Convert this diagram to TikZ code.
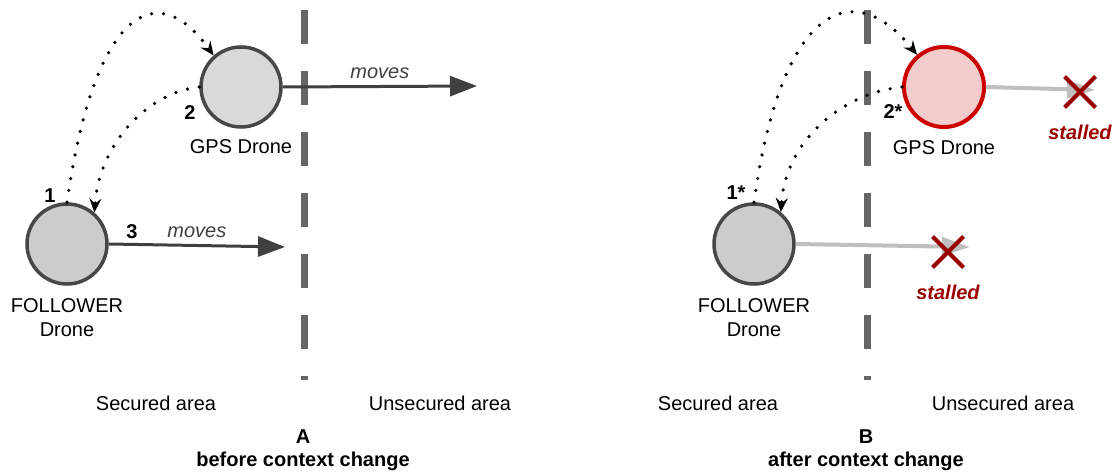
\documentclass[tikz,border=0pt]{standalone}
\usepackage{fontspec}
\setmainfont{Liberation Sans}
\usetikzlibrary{arrows.meta,calc}
\usetikzlibrary{positioning,shapes.misc}

\definecolor{dronegray}{HTML}{474747}
\definecolor{movegray}{HTML}{404040}
\definecolor{bordergray}{HTML}{666666}
\definecolor{stallgray}{HTML}{BFBFBF}
\definecolor{stallred}{HTML}{990000}
\definecolor{alertred}{HTML}{CC0000}
\definecolor{alertfill}{HTML}{F4CCCC}

\begin{document}
\begin{tikzpicture}[x=0.5pt,y=0.5pt]
		\tikzstyle{drone}=[circle,draw=dronegray,line width=1.75pt,minimum size=40pt,inner sep=0pt]
		\tikzstyle{border line}=[draw=bordergray,line width=3.5pt,dash pattern=on 17pt off 13.5pt]
		\tikzstyle{move line}=[draw=movegray,line width=1.5pt,-{Triangle[length=13.5pt,width=10pt]}]
		\tikzstyle{stall line}=[draw=stallgray,line width=2pt,-{Triangle[length=14pt,width=9pt]}]
		\tikzstyle{request}=[line width=1.8pt,dash pattern=on 0pt off 6pt,line cap=round,-{Stealth[length=7pt,width=6pt,inset=2.5pt]}]
		\tikzstyle{stop mark}=[cross out,draw=stallred,line width=2pt,minimum size=13.5pt,inner sep=0pt]
		\tikzstyle{stall text}=[text=stallred,font=\bfseries\itshape]
		\useasboundingbox (0,0) rectangle (1113,472);

		%%% A: before context change
		%border
		\draw [border line] (304,462) -- (304,92);
		%drones
		\node [drone,fill=black!15] (gpsA) at (241,385) {};
		\node [drone,fill=black!20] (folA) at (67,228) {};
		\node [below=2pt of gpsA] (gpsAtext) {GPS Drone};
		\node [below=3pt of folA,align=center] (folAtext) {FOLLOWER\\Drone};
		%requests
		\draw [request] (folA.north) .. controls +(27,190) and +(-58,81) .. (gpsA.131);
		\draw [request] (gpsA.west) .. controls +(-50,-5) and +(5,70) .. (folA.49);
		\node (numA1) at (50,276) {\textbf{1}};
		\node (numA2) at (190,359) {\textbf{2}};
		\node (numA3) at (132,240) {\textbf{3}};
		%moves
		\coordinate (gpsAend) at (477,386);
		\coordinate (folAend) at (285,225);
		\draw [move line] (gpsA.east) -- (gpsAend) node [midway,above=0pt,text=movegray] (movesA1) {\itshape moves};
		\draw [move line] (folA.east) -- (folAend) node [midway,above=0pt,text=movegray] (movesA2) {\itshape moves};
		%areas
		\node (secA) at (156,69) {Secured area};
		\node (unsecA) at (440,69) {Unsecured area};
		\node (titleA) at (303,35) {\textbf{A}};
		\node (captionA) at (303,11) {\textbf{before context change}};

		%%% B: after context change
		%border
		\draw [border line] (867,462) -- (867,92);
		%drones
		\node [drone,draw=alertred,line width=2pt,fill=alertfill] (gpsB) at (944,385) {};
		\node [drone,fill=black!20] (folB) at (754,228) {};
		\node [below=2pt of gpsB] (gpsBtext) {GPS Drone};
		\node [below=3pt of folB,align=center] (folBtext) {FOLLOWER\\Drone};
		%requests
		\draw [request] (folB.north) .. controls +(27,195) and +(-65,81) .. (gpsB.130);
		\draw [request] (gpsB.west) .. controls +(-55,-5) and +(5,75) .. (folB.50);
		\node (numB1) at (736,279) {\textbf{1*}};
		\node (numB2) at (893,360) {\textbf{2*}};
		%stalled moves
		\coordinate (gpsBend) at (1095,382);
		\coordinate (folBend) at (970,225);
		\draw [stall line] (gpsB.east) -- (gpsBend);
		\draw [stall line] (folB.east) -- (folBend);
		\node [stop mark] (stopB1) at (1080,380) {};
		\node [stop mark] (stopB2) at (948,220) {};
		\node [stall text] (stallB1) at (1080,340) {stalled};
		\node [stall text] (stallB2) at (948,180) {stalled};
		%areas
		\node (secB) at (718,69) {Secured area};
		\node (unsecB) at (1003,69) {Unsecured area};
		\node (titleB) at (866,35) {\textbf{B}};
		\node (captionB) at (866,11) {\textbf{after context change}};
	\end{tikzpicture}
\end{document}
